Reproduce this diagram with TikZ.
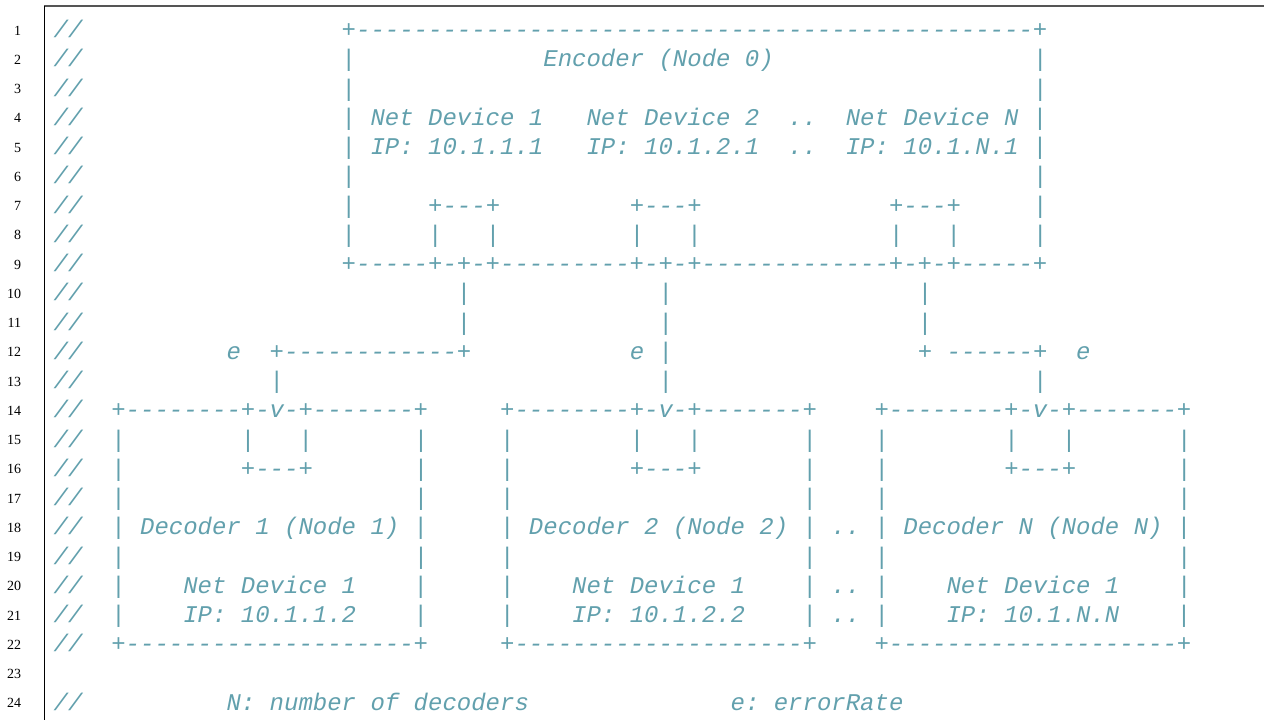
\documentclass[tikz,border=0pt]{standalone}
\usepackage{fontspec}
\setmainfont{Liberation Serif}
\setmonofont{Liberation Mono}
\usetikzlibrary{positioning}
\definecolor{codeteal}{HTML}{62A0AD}
\definecolor{rulegray}{HTML}{555555}

% one listing line: spaces are kept as typed
\newcommand\codeline{\begingroup\obeyspaces\codelineaux}
\newcommand\codelineaux[2]{%
  \node[codetext] (line#1) at (53.3, {37.5+(#1-1)*29.26}) {#2};\endgroup}

\begin{document}
\begin{tikzpicture}[
  x=0.5pt, y=-0.5pt,
  codetext/.style={anchor=base west, inner sep=0pt, text=codeteal,
    font=\fontsize{12}{12}\selectfont\ttfamily\itshape\frenchspacing},
  lineno/.style={anchor=base east, inner sep=0pt,
    font=\fontsize{7}{7}\selectfont}
]
\useasboundingbox (0,0) rectangle (1264,720);

% frame of the listing
\draw[line width=1pt, rulegray] (44,6) -- (1264,6);
\draw[line width=0.5pt, black] (44,6) -- (44,720);

% line numbers
\foreach \n in {1,...,24}
  \node[lineno] (num\n) at (21.5, {35+(\n-1)*29.26}) {\n};

% encoder box
\codeline{1}{//                  +-----------------------------------------------+}
\codeline{2}{//                  |             Encoder (Node 0)                  |}
\codeline{3}{//                  |                                               |}
\codeline{4}{//                  | Net Device 1   Net Device 2  ..  Net Device N |}
\codeline{5}{//                  | IP: 10.1.1.1   IP: 10.1.2.1  ..  IP: 10.1.N.1 |}
\codeline{6}{//                  |                                               |}
\codeline{7}{//                  |     +---+         +---+             +---+     |}
\codeline{8}{//                  |     |   |         |   |             |   |     |}
\codeline{9}{//                  +-----+-+-+---------+-+-+-------------+-+-+-----+}

% links with error rate
\codeline{10}{//                          |             |                 |}
\codeline{11}{//                          |             |                 |}
\codeline{12}{//          e  +------------+           e |                 + ------+  e}
\codeline{13}{//             |                          |                         |}

% decoder boxes
\codeline{14}{//  +--------+-v-+-------+     +--------+-v-+-------+    +--------+-v-+-------+}
\codeline{15}{//  |        |   |       |     |        |   |       |    |        |   |       |}
\codeline{16}{//  |        +---+       |     |        +---+       |    |        +---+       |}
\codeline{17}{//  |                    |     |                    |    |                    |}
\codeline{18}{//  | Decoder 1 (Node 1) |     | Decoder 2 (Node 2) | .. | Decoder N (Node N) |}
\codeline{19}{//  |                    |     |                    |    |                    |}
\codeline{20}{//  |    Net Device 1    |     |    Net Device 1    | .. |    Net Device 1    |}
\codeline{21}{//  |    IP: 10.1.1.2    |     |    IP: 10.1.2.2    | .. |    IP: 10.1.N.N    |}
\codeline{22}{//  +--------------------+     +--------------------+    +--------------------+}

% legend
\codeline{24}{//          N: number of decoders              e: errorRate}

\end{tikzpicture}
\end{document}
